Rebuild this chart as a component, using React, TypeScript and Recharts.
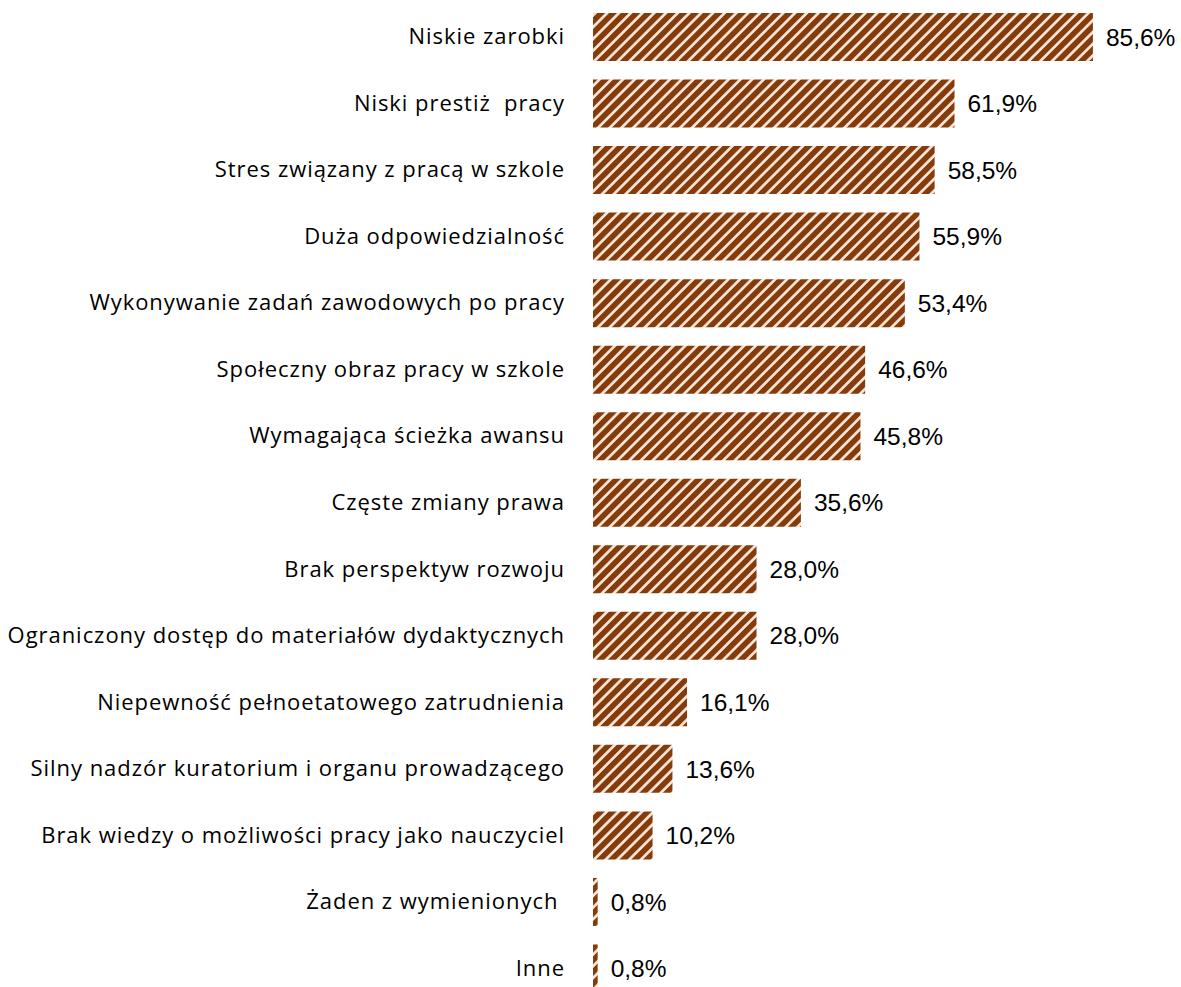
import { BarChart, Bar, XAxis, YAxis, LabelList } from 'recharts';

const categories = [
  'Niskie zarobki',
  'Niski prestiż  pracy',
  'Stres związany z pracą w szkole',
  'Duża odpowiedzialność',
  'Wykonywanie zadań zawodowych po pracy',
  'Społeczny obraz pracy w szkole',
  'Wymagająca ścieżka awansu',
  'Częste zmiany prawa',
  'Brak perspektyw rozwoju',
  'Ograniczony dostęp do materiałów dydaktycznych',
  'Niepewność pełnoetatowego zatrudnienia',
  'Silny nadzór kuratorium i organu prowadzącego',
  'Brak wiedzy o możliwości pracy jako nauczyciel',
  'Żaden z wymienionych ',
  'Inne',
];

const values = [85.6, 61.9, 58.5, 55.9, 53.4, 46.6, 45.8, 35.6, 28.0, 28.0, 16.1, 13.6, 10.2, 0.8, 0.8];

const data = categories.map((name, i) => ({ name, value: values[i] }));

const DARK = '#843C0C';
const LIGHT = '#FBE5D6';

function CategoryTick(props: any) {
  const { x, y, payload } = props;
  return (
    <text
      x={x}
      y={y}
      dy={7}
      textAnchor="end"
      fill="#000"
      fontSize={22}
      letterSpacing={0.95}
      fontFamily="'Open Sans', sans-serif"
      style={{ whiteSpace: 'pre' }}
    >
      {payload.value}
    </text>
  );
}

export default function App() {
  return (
    <div style={{ position: 'absolute', left: 0, top: 0, width: 1181, height: 987, overflow: 'hidden', background: '#fff' }}>
      <BarChart
        width={1181}
        height={1002}
        data={data}
        layout="vertical"
        margin={{ top: 4, right: 4, left: 0, bottom: 0 }}
        barCategoryGap={18}
      >
        <defs>
          <pattern id="stripes" width="8.3" height="8.3" patternUnits="userSpaceOnUse" patternTransform="rotate(45)">
            <rect width="8.3" height="8.3" fill={LIGHT} />
            <rect width="5.6" height="8.3" fill={DARK} />
          </pattern>
        </defs>
        <XAxis type="number" domain={[0, 100]} hide />
        <YAxis
          type="category"
          dataKey="name"
          width={593}
          axisLine={false}
          tickLine={false}
          tickSize={0}
          tickMargin={28}
          tick={<CategoryTick />}
          interval={0}
        />
        <Bar dataKey="value" fill="url(#stripes)" barSize={48} isAnimationActive={false}>
          <LabelList
            dataKey="value"
            position="right"
            offset={13}
            fill="#000"
            fontSize={24.5}
            fontFamily="'Liberation Sans', Arial, sans-serif"
            formatter={(v: any) => Number(v).toFixed(1).replace('.', ',') + '%'}
          />
        </Bar>
      </BarChart>
    </div>
  );
}
